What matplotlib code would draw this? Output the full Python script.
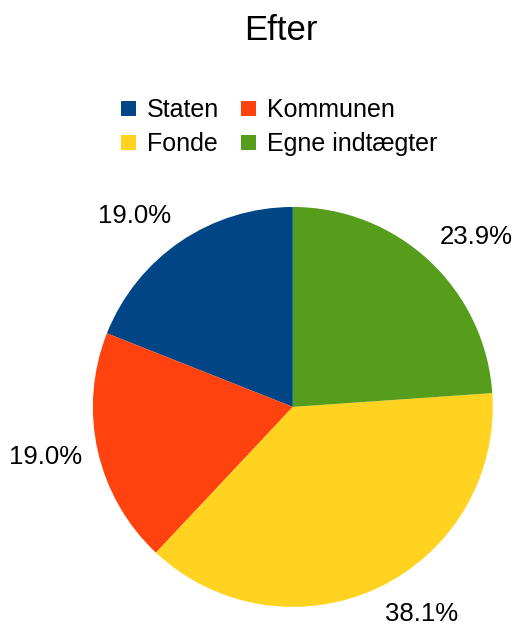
import matplotlib
matplotlib.use("Agg")
import matplotlib.pyplot as plt
import numpy as np

plt.rcParams['font.family'] = ['Liberation Sans', 'DejaVu Sans']

categories = ["Staten", "Kommunen", "Fonde", "Egne indtægter"]
values = [19.0, 19.0, 38.1, 23.9]
colors = ["#004586", "#ff420e", "#ffd320", "#579d1c"]

fig = plt.figure(figsize=(5.16, 6.27), dpi=100)
fig.text(0.545, 0.952, "Efter", ha="center", va="center", fontsize=25)

ax = fig.add_axes([0.180, 0.032, 0.775, 0.638])
wedges, texts, autotexts = ax.pie(values, colors=colors, startangle=90, counterclock=True,
                                  autopct="%.1f%%", pctdistance=1.08,
                                  textprops=dict(fontsize=18.5, color="black"))
# align labels outward from the pie, like the original
for w, t in zip(wedges, autotexts):
    ang = np.deg2rad((w.theta1 + w.theta2) / 2)
    c, s = np.cos(ang), np.sin(ang)
    t.set_ha("left" if c > 0.1 else ("right" if c < -0.1 else "center"))
    t.set_va("bottom" if s > 0.3 else ("top" if s < -0.3 else "center_baseline"))
ax.set_xlim(-1, 1)
ax.set_ylim(-1, 1)
ax.set_aspect("equal")

# legend filled row-wise: Staten, Kommunen / Fonde, Egne indtægter
order = [0, 2, 1, 3]
leg = fig.legend([wedges[i] for i in order], [categories[i] for i in order],
                 loc="center", bbox_to_anchor=(0.541, 0.797),
                 ncol=2, frameon=False, fontsize=18, handlelength=0.6, handleheight=0.6,
                 handletextpad=0.45, columnspacing=0.85, labelspacing=0.4,
                 borderpad=0, borderaxespad=0)

fig.savefig("out.png", dpi=100)
